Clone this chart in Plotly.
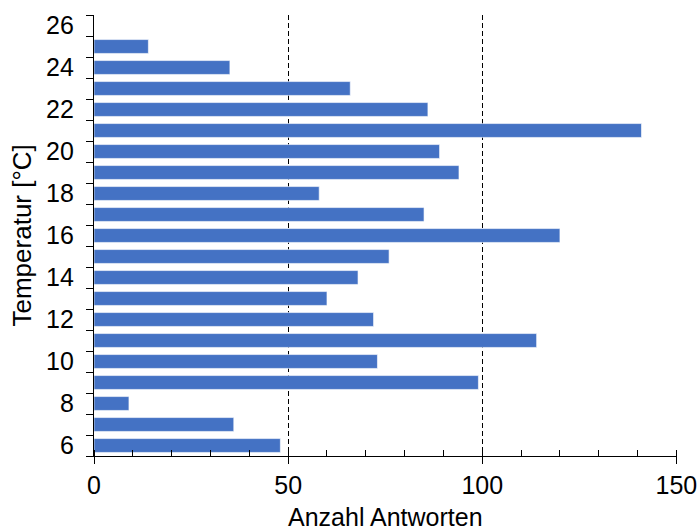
import plotly.graph_objects as go

temperatures = list(range(6, 26))
answers = [48, 36, 9, 99, 73, 114, 72, 60, 68, 76, 120, 85, 58, 94, 89, 141, 86, 66, 35, 14]
y_tick_values = list(range(6, 27, 2))
y_tick_text = [str(v) for v in y_tick_values]
y_tick_marks = [v + 0.5 for v in range(5, 27)]

fig = go.Figure()
fig.add_trace(go.Bar(
    x=answers, y=temperatures, orientation="h",
    marker=dict(color="#4472C4", line=dict(color="white", width=0.6)),
    width=0.66,
))

font = dict(family="Liberation Sans, Arial, sans-serif", color="black")

fig.update_layout(
    width=700, height=528,
    margin=dict(l=94, r=23, t=15, b=72),
    paper_bgcolor="white", plot_bgcolor="white",
    showlegend=False,
    font=dict(family="Liberation Sans, Arial, sans-serif", size=25, color="black"),
    xaxis=dict(
        range=[0, 150.15], tickvals=[0, 50, 100, 150],
        showgrid=True, gridcolor="black", griddash="5px,3px", gridwidth=1.4,
        zeroline=False, showline=True, linecolor="black", linewidth=1.3,
        ticks="outside", ticklen=7, tickcolor="black", tickwidth=1.3,
        tickfont=dict(size=25, **font),
        minor=dict(dtick=10, tick0=0, ticks="inside", ticklen=6, tickcolor="black", tickwidth=1.3, showgrid=False),
        automargin=False,
        fixedrange=True,
    ),
    yaxis=dict(
        range=[5.5, 26.5], tickmode="array", tickvals=y_tick_values, ticktext=y_tick_text,
        showgrid=False, zeroline=False, showline=True, linecolor="black", linewidth=1.3,
        ticks="", tickfont=dict(size=25, **font), ticklabelstandoff=14,
        minor=dict(tickmode="array", tickvals=y_tick_marks, ticks="outside", ticklen=7,
                   tickcolor="black", tickwidth=1.3, showgrid=False),
        automargin=False,
        fixedrange=True,
    ),
    annotations=[
        dict(text="Anzahl Antworten", xref="paper", yref="paper", x=0.5, y=-0.1383,
             xanchor="center", yanchor="middle", showarrow=False,
             font=dict(size=25, **font)),
        dict(text="Temperatur [°C]", xref="paper", yref="paper", x=-0.1235, y=0.5,
             xanchor="center", yanchor="middle", textangle=-90, showarrow=False,
             font=dict(size=26, **font)),
    ],
)

fig.write_html(
    "out.html",
    config={"displayModeBar": False},
    post_script="document.body.style.margin='0';document.body.style.overflow='hidden';",
)
